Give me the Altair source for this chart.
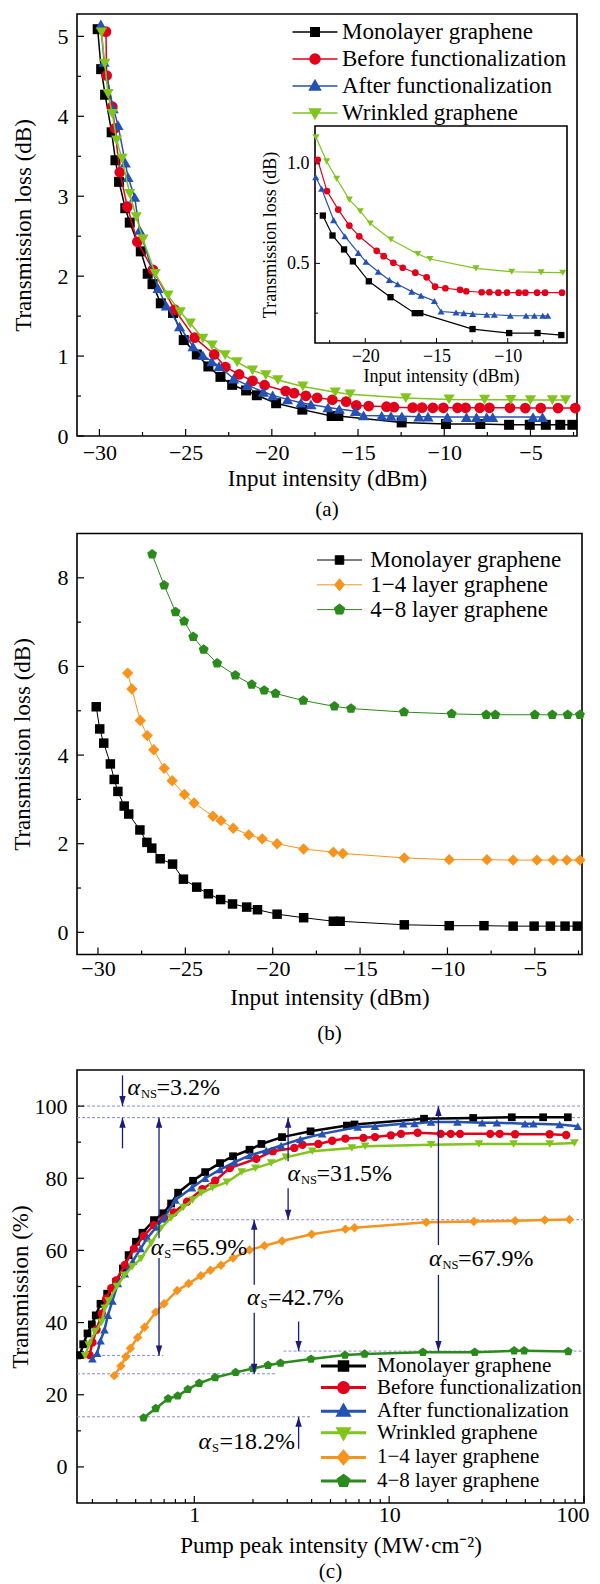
import altair as alt
import pandas as pd

FONT = "Liberation Serif"
BLACK = "#000000"; RED = "#e3001b"; BLUE = "#2451b3"; LGREEN = "#80c41c"
ORANGE = "#f7941d"; DGREEN = "#2b8a1c"; NAVY = "#1b1b7d"; DASH = "#8a8ad8"

PENT = "M0,-1L0.951,-0.309L0.588,0.809L-0.588,0.809L-0.951,-0.309Z"
LN = "M-4.5,0H4.5"
LEG_SQUARE = LN + "M-0.85,-0.85H0.85V0.85H-0.85Z"
LEG_CIRCLE = LN + "M1,0A1,1,0,1,1,-1,0A1,1,0,1,1,1,0Z"
LEG_TUP = LN + "M0,-1.15L1.1,0.8H-1.1Z"
LEG_TDOWN = LN + "M0,1.15L1.1,-0.8H-1.1Z"
LEG_DIAM = LN + "M0,-1.2L1,0L0,1.2L-1,0Z"
LEG_PENT = LN + "M0,-1.1L1.046,-0.34L0.647,0.89L-0.647,0.89L-1.046,-0.34Z"
HEAD_UP = "M0,0L0.32,1L-0.32,1Z"
HEAD_DOWN = "M0,0L0.32,-1L-0.32,-1Z"

# ---------------- panel (a) / (b) data ----------------
mono_x = [-30.1, -29.9, -29.67, -29.29, -29.07, -28.86, -28.5, -28.24, -27.6, -27.2,
          -26.92, -26.44, -25.73, -25.11, -24.35, -23.68, -22.98, -22.3, -21.49, -20.87,
          -19.75, -18.23, -16.53, -16.14, -12.47, -9.9, -7.91, -6.24, -5.04, -4.11, -3.27, -2.57]
mono_y = [5.09, 4.59, 4.27, 3.80, 3.45, 3.18, 2.85, 2.67, 2.31, 2.03,
          1.90, 1.66, 1.54, 1.20, 1.02, 0.87, 0.74, 0.64, 0.57, 0.51,
          0.41, 0.33, 0.25, 0.25, 0.17, 0.15, 0.15, 0.14, 0.14, 0.14, 0.14, 0.14]
before_x = [-29.62, -29.58, -29.25, -29.1, -28.82, -28.38, -27.8, -26.9, -25.64, -24.48,
            -23.34, -22.69, -21.9, -21.12, -20.42, -19.2, -18.71, -18.03, -17.37, -16.49,
            -15.69, -15.1, -14.38, -13.35, -12.91, -11.83, -11.29, -10.66, -10.05, -9.23,
            -8.76, -7.94, -7.38, -6.19, -5.3, -4.4, -3.4, -2.4]
before_y = [5.06, 4.51, 4.12, 3.85, 3.30, 2.87, 2.43, 2.08, 1.58, 1.23,
            1.02, 0.863, 0.77, 0.69, 0.636, 0.563, 0.536, 0.503, 0.478, 0.453,
            0.43, 0.383, 0.375, 0.367, 0.36, 0.355, 0.355, 0.353, 0.353, 0.353,
            0.353, 0.353, 0.353, 0.353, 0.35, 0.35, 0.35, 0.35]
after_x = [-29.92, -29.73, -29.2, -28.92, -28.5, -28.34, -27.96, -27.67, -26.6, -26.12,
           -25.35, -24.57, -24.0, -23.48, -23.06, -22.22, -21.43, -20.49, -19.95, -19.09,
           -18.31, -17.73, -16.74, -16.09, -15.15, -14.68, -13.63, -13.09, -12.46, -11.47,
           -10.94, -9.82, -8.71, -8.13, -7.54, -7.19, -4.85, -4.3]
after_y = [5.15, 4.68, 4.10, 3.89, 3.42, 3.24, 2.99, 2.58, 1.85, 1.63,
           1.37, 1.12, 1.01, 0.933, 0.875, 0.717, 0.636, 0.553, 0.508, 0.458,
           0.417, 0.395, 0.358, 0.338, 0.311, 0.258, 0.253, 0.25, 0.246, 0.242,
           0.242, 0.237, 0.237, 0.237, 0.237, 0.237, 0.237, 0.237]
wr_x = [-29.88, -29.69, -29.5, -29.25, -29.0, -28.69, -28.24, -27.86, -27.47, -26.76,
        -26.02, -25.31, -24.73, -24.0, -23.46, -22.71, -22.01, -21.12, -20.35, -19.65,
        -18.2, -16.32, -15.46, -12.23, -9.72, -7.66, -6.14, -5.0, -3.73, -2.96]
wr_y = [5.05, 4.66, 4.28, 4.03, 3.70, 3.47, 3.03, 2.74, 2.46, 2.03,
        1.76, 1.55, 1.41, 1.22, 1.133, 1.012, 0.925, 0.82, 0.762, 0.70,
        0.62, 0.547, 0.522, 0.475, 0.458, 0.455, 0.453, 0.45, 0.45, 0.45]
l14_x = [-28.3, -28.06, -27.58, -27.18, -26.81, -26.21, -25.75, -25.05, -24.5, -23.42,
         -22.96, -22.26, -21.37, -20.6, -19.75, -18.23, -16.53, -15.99, -12.47, -9.9,
         -7.74, -6.24, -4.88, -3.94, -3.17, -2.42]
l14_y = [5.85, 5.49, 4.78, 4.44, 4.12, 3.70, 3.42, 3.11, 2.92, 2.62,
         2.52, 2.35, 2.20, 2.11, 2.00, 1.88, 1.81, 1.78, 1.68, 1.64,
         1.64, 1.63, 1.63, 1.63, 1.63, 1.63]
l48_x = [-26.9, -26.21, -25.56, -25.07, -24.55, -23.95, -23.18, -22.14, -21.2, -20.49,
         -19.84, -18.25, -16.47, -15.52, -12.49, -9.76, -7.78, -7.26, -5.0, -4.0, -3.12, -2.42]
l48_y = [8.53, 7.83, 7.23, 7.02, 6.67, 6.38, 6.07, 5.80, 5.59, 5.46,
         5.39, 5.23, 5.10, 5.05, 4.97, 4.93, 4.91, 4.91, 4.91, 4.91, 4.91, 4.91]

# ---------------- panel (c) data ----------------
c_mono_x = [0.259, 0.269, 0.283, 0.298, 0.312, 0.330, 0.357, 0.397, 0.43, 0.46,
            0.502, 0.542, 0.621, 0.693, 0.76, 0.826, 0.985, 1.137, 1.355, 1.58,
            1.92, 2.21, 2.82, 3.95, 6.07, 6.64, 15.1, 27.0, 42.6, 61.7, 82.6]
c_mono_y = [31.0, 34.0, 37.0, 39.5, 42.0, 45.2, 48.0, 51.3, 55.0, 58.7,
            62.4, 64.9, 68.4, 70.3, 73.0, 76.0, 79.3, 81.7, 84.2, 86.1,
            87.9, 89.5, 91.4, 93.0, 94.6, 94.9, 96.5, 96.7, 96.9, 96.9, 96.9]
c_before_x = [0.29, 0.30, 0.315, 0.335, 0.353, 0.375, 0.397, 0.44, 0.49, 0.55,
              0.62, 0.70, 0.785, 0.918, 1.1, 1.28, 1.52, 2.08, 2.53, 3.26,
              3.59, 4.33, 5.1, 5.96, 7.38, 8.46, 10.2, 11.5, 14.0, 18.4,
              20.7, 23.1, 33.0, 36.9, 44.3, 66.6, 81.0]
c_before_y = [31.0, 34.5, 38.0, 42.5, 46.6, 49.5, 51.7, 56.0, 60.5, 64.0,
              67.0, 68.8, 70.5, 73.5, 77.0, 79.3, 82.8, 85.4, 87.5, 88.4,
              89.3, 89.5, 90.4, 91.0, 91.2, 91.4, 91.9, 92.3, 92.6, 92.3,
              92.3, 92.3, 92.3, 92.3, 92.2, 92.2, 92.0]
c_after_x = [0.30, 0.317, 0.33, 0.346, 0.36, 0.38, 0.405, 0.44, 0.483, 0.53,
             0.575, 0.64, 0.699, 0.80, 0.973, 1.137, 1.355, 1.61, 1.92, 2.34,
             2.79, 3.5, 4.53, 6.9, 8.46, 11.8, 13.5, 16.4, 22.4, 30.0,
             35.7, 49.8, 55.0, 75.0, 92.9]
c_after_y = [30.0, 31.5, 35.0, 38.0, 42.0, 46.0, 50.8, 53.5, 57.0, 60.5,
             63.5, 66.5, 68.9, 74.0, 77.4, 80.0, 82.4, 84.5, 86.3, 87.7,
             89.1, 90.8, 92.3, 94.2, 94.4, 95.1, 95.2, 95.6, 95.6, 95.4,
             95.4, 95.1, 95.1, 94.9, 94.4]
c_wr_x = [0.275, 0.287, 0.31, 0.334, 0.347, 0.363, 0.40, 0.438, 0.48, 0.532,
          0.60, 0.672, 0.76, 0.877, 0.98, 1.086, 1.24, 1.47, 1.75, 2.06,
          2.48, 2.95, 4.03, 6.44, 7.53, 16.4, 28.9, 43.5, 66.7, 89.3]
c_wr_y = [30.8, 33.8, 37.5, 40.1, 44.0, 46.0, 50.0, 53.1, 55.5, 57.7,
          62.0, 66.1, 69.0, 71.9, 74.0, 75.9, 77.4, 78.9, 81.7, 82.8,
          84.2, 85.8, 87.5, 88.4, 88.9, 89.3, 89.5, 89.5, 89.5, 89.8]
c_l14_x = [0.388, 0.42, 0.445, 0.47, 0.512, 0.555, 0.634, 0.699, 0.817, 0.935,
           1.08, 1.21, 1.37, 1.58, 1.92, 2.29, 2.82, 4.0, 5.96, 6.64,
           15.5, 27.2, 44.3, 62.9, 84.2]
c_l14_y = [25.3, 28.0, 30.5, 32.9, 35.9, 38.7, 42.9, 45.2, 48.9, 50.8,
           53.0, 54.5, 55.9, 57.9, 60.1, 61.3, 62.6, 64.5, 65.9, 66.3,
           67.8, 68.0, 68.2, 68.4, 68.6]
c_l48_x = [0.549, 0.634, 0.734, 0.822, 0.927, 1.06, 1.28, 1.63, 2.0, 2.39,
           2.77, 3.97, 5.93, 7.48, 14.9, 27.5, 43.8, 49.3, 83.0]
c_l48_y = [13.6, 16.2, 18.9, 19.7, 21.5, 23.2, 24.8, 26.2, 27.3, 28.2,
           28.8, 29.9, 31.0, 31.3, 31.8, 31.8, 32.2, 32.2, 32.0]

# annotations (c)
dash_y = [100, 96.8, 68.5, 30.9, 25.8, 32.1, 13.9]
dash_x1 = [0.25, 0.25, 0.964, 0.25, 0.25, 2.87, 0.25]
dash_x2 = [100, 100, 100, 0.693, 2.62, 100, 3.96]
arr_x = [0.428, 0.428, 0.659, 0.659, 3.03, 3.03, 2.03, 2.03, 17.9, 17.9, 3.43, 3.43]
arr_y1 = [108.5, 88.3, 96.8, 57.9, 96.8, 77.2, 68.5, 42.7, 100, 53.2, 40.3, 5.0]
arr_y2 = [100, 96.8, 63.4, 30.9, 84.7, 68.5, 50.5, 25.8, 61.5, 32.1, 32.1, 13.9]
up_x = [0.428, 0.659, 3.03, 2.03, 17.9, 3.43]
up_y = [96.8, 96.8, 96.8, 68.5, 100, 13.9]
down_x = [0.428, 0.659, 3.03, 2.03, 17.9, 3.43]
down_y = [100, 30.9, 68.5, 25.8, 32.1, 32.1]
ns_x = [0.454, 3.01, 16.0]
ns_y = [105.0, 81.3, 57.7]
ns_txt = ["=3.2%", "=31.5%", "=67.9%"]
s_x = [0.597, 1.866, 1.05]
s_y = [60.7, 46.9, 6.9]
s_txt = ["=65.9%", "=42.7%", "=18.2%"]

names_a = ["Monolayer graphene", "Before functionalization", "After functionalization", "Wrinkled graphene"]
names_b = ["Monolayer graphene", "1\u22124 layer graphene", "4\u22128 layer graphene"]
names_c = names_a + names_b[1:]

# inset domains
IX = [-23.53, -5.84]
IY = [0.1, 1.19]


def ax(**kw):
    base = dict(ticks=False, domain=False, grid=False, labelFlush=False, labelOverlap=False)
    base.update(kw)
    return alt.Axis(**base)


def series(xs, ys, X, Y, color, shape, size, lw, xr=None):
    df = pd.DataFrame({"x": xs, "y": ys})
    if xr is not None:
        df = df[(df["x"] >= xr[0]) & (df["x"] <= xr[1])]
    base = alt.Chart(df)
    return [base.mark_line(color=color, strokeWidth=lw).encode(x=X, y=Y),
            base.mark_point(shape=shape, filled=True, size=size, color=color, opacity=1).encode(x=X, y=Y)]


def ticks(X, Y, ybot, x0, xmaj, xmin, ymaj, ymin, lmaj=7, lmin=4, sw=1.2):
    out = []
    for vals, ln in ((xmaj, lmaj), (xmin, lmin)):
        out.append(alt.Chart(pd.DataFrame({"x": vals})).mark_rule(color="black", strokeWidth=sw)
                   .encode(x=X, y=alt.value(ybot), y2=alt.value(ybot - ln)))
    for vals, ln in ((ymaj, lmaj), (ymin, lmin)):
        out.append(alt.Chart(pd.DataFrame({"y": vals})).mark_rule(color="black", strokeWidth=sw)
                   .encode(y=Y, x=alt.value(x0), x2=alt.value(x0 + ln)))
    return out


def legend_layer(names, colors, paths, lx, ly, fs, offs, rowpad, sw):
    leg = alt.Legend(title=None, orient="none", legendX=lx, legendY=ly, labelFont=FONT,
                     labelFontSize=fs, labelColor="black", symbolSize=100, symbolStrokeWidth=sw,
                     labelOffset=offs, rowPadding=rowpad, padding=0, labelLimit=500, symbolOpacity=1)
    return (alt.Chart(pd.DataFrame({"series": names}))
            .transform_filter("datum.series == '__none__'")
            .mark_point(filled=True, opacity=1)
            .encode(fill=alt.Fill("series:N", scale=alt.Scale(domain=names, range=colors), legend=leg),
                    stroke=alt.Stroke("series:N", scale=alt.Scale(domain=names, range=colors), legend=leg),
                    shape=alt.Shape("series:N", scale=alt.Scale(domain=names, range=paths), legend=leg)))


# ================= panel (a) =================
WA, HA = 500, 422
XA = alt.X("x:Q", scale=alt.Scale(domain=[-31.3, -2.3], nice=False, zero=False),
           axis=ax(values=[-30, -25, -20, -15, -10, -5], title="Input intensity (dBm)",
                   labelPadding=6, titlePadding=4.5))
YA = alt.Y("y:Q", scale=alt.Scale(domain=[0, 5.28], nice=False, zero=False),
           axis=ax(values=[0, 1, 2, 3, 4, 5], title="Transmission loss (dB)",
                   labelPadding=9, titlePadding=21.5))
main_a = []
main_a += series(mono_x, mono_y, XA, YA, BLACK, "square", 100, 1.5)
main_a += series(before_x, before_y, XA, YA, RED, "circle", 115, 1.5)
main_a += series(after_x, after_y, XA, YA, BLUE, "triangle-up", 125, 1.5)
main_a += series(wr_x, wr_y, XA, YA, LGREEN, "triangle-down", 125, 1.5)
main_a += ticks(XA, YA, HA, 0, [-30, -25, -20, -15, -10, -5], [-27.5, -22.5, -17.5, -12.5, -7.5, -2.5],
                [0, 1, 2, 3, 4, 5], [0.5, 1.5, 2.5, 3.5, 4.5])
main_a.append(legend_layer(names_a, [BLACK, RED, BLUE, LGREEN],
                           [LEG_SQUARE, LEG_CIRCLE, LEG_TUP, LEG_TDOWN],
                           226.5, 6.5, 23, 15.5, 3.0, 1.5))

XI = alt.X("x:Q", scale=alt.Scale(domain=IX, range=[238, 490], nice=False, zero=False),
           axis=ax(values=[-20, -15, -10], orient="bottom", offset=-93, title="Input intensity (dBm)",
                   labelFontSize=18, titleFontSize=18, labelPadding=4, titlePadding=2))
YI = alt.Y("y:Q", scale=alt.Scale(domain=IY, range=[329, 112], nice=False, zero=False),
           axis=ax(values=[0.5, 1.0], format=".1f", orient="left", offset=-238,
                   title="Transmission loss (dB)", labelFontSize=18, titleFontSize=18,
                   labelPadding=6, titlePadding=7))
inset = [alt.Chart(pd.DataFrame({"x": [IX[0]], "x2": [IX[1]], "y": [IY[0]], "y2": [IY[1]]}))
         .mark_rect(fill="white", stroke="black", strokeWidth=1.6)
         .encode(x=XI, x2="x2:Q", y=YI, y2="y2:Q")]
inset += series(mono_x, mono_y, XI, YI, BLACK, "square", 40, 1.2, IX)
inset += series(before_x, before_y, XI, YI, RED, "circle", 45, 1.2, IX)
inset += series(after_x, after_y, XI, YI, BLUE, "triangle-up", 50, 1.2, IX)
inset += series(wr_x, wr_y, XI, YI, LGREEN, "triangle-down", 50, 1.2, IX)
inset += ticks(XI, YI, 329, 238, [-20, -15, -10], [-22.5, -17.5, -12.5, -7.5],
               [0.5, 1.0], [0.25, 0.75], lmaj=5, lmin=3, sw=1)

pa = (alt.layer(alt.layer(*main_a), alt.layer(*inset))
      .resolve_scale(x="independent", y="independent")
      .resolve_axis(x="independent", y="independent")
      .properties(width=WA, height=HA,
                  title=alt.TitleParams("(a)", orient="bottom", offset=8, anchor="middle", frame="group")))

# ================= panel (b) =================
WB, HB = 505, 421
XB = alt.X("x:Q", scale=alt.Scale(domain=[-31.2, -2.3], nice=False, zero=False),
           axis=ax(values=[-30, -25, -20, -15, -10, -5], title="Input intensity (dBm)",
                   labelPadding=3.7, titlePadding=7))
YB = alt.Y("y:Q", scale=alt.Scale(domain=[-0.5, 9.0], nice=False, zero=False),
           axis=ax(values=[0, 2, 4, 6, 8], title="Transmission loss (dB)",
                   labelPadding=9, titlePadding=22.5))
lb = []
lb += series(mono_x, mono_y, XB, YB, BLACK, "square", 90, 1)
lb += series(l14_x, l14_y, XB, YB, ORANGE, "diamond", 130, 1)
lb += series(l48_x, l48_y, XB, YB, DGREEN, PENT, 110, 1)
lb += ticks(XB, YB, HB, 0, [-30, -25, -20, -15, -10, -5], [-27.5, -22.5, -17.5, -12.5, -7.5, -2.5],
            [0, 2, 4, 6, 8], [1, 3, 5, 7])
lb.append(legend_layer(names_b, [BLACK, ORANGE, DGREEN], [LEG_SQUARE, LEG_DIAM, LEG_PENT],
                       251, 15, 23, 19.3, 0.8, 1))
pb = alt.layer(*lb).properties(
    width=WB, height=HB,
    title=alt.TitleParams("(b)", orient="bottom", offset=14, anchor="middle", frame="group",
                          subtitle=" ", subtitleFontSize=10, subtitlePadding=2))

# ================= panel (c) =================
WC, HC = 507, 433
XC = alt.X("x:Q", scale=alt.Scale(type="log", domain=[0.25, 100], nice=False),
           axis=ax(values=[1, 10, 100], format=".0f", labelFlush=2, labelFlushOffset=5,
                   title="Pump peak intensity (MW\u00b7cm\u207b\u00b2)", labelPadding=1.5, titlePadding=9))
YC = alt.Y("y:Q", scale=alt.Scale(domain=[-10, 110], nice=False, zero=False),
           axis=ax(values=[0, 20, 40, 60, 80, 100], title="Transmission (%)",
                   labelPadding=10, titlePadding=2))
lc = []
lc.append(alt.Chart(pd.DataFrame({"x": dash_x1, "x2": dash_x2, "y": dash_y}))
          .mark_rule(color=DASH, strokeWidth=1, strokeDash=[3, 2]).encode(x=XC, x2="x2:Q", y=YC))
lc += series(c_mono_x, c_mono_y, XC, YC, BLACK, "square", 60, 2.5)
lc += series(c_before_x, c_before_y, XC, YC, RED, "circle", 70, 2.5)
lc += series(c_after_x, c_after_y, XC, YC, BLUE, "triangle-up", 75, 2.5)
lc += series(c_wr_x, c_wr_y, XC, YC, LGREEN, "triangle-down", 75, 2.5)
lc += series(c_l14_x, c_l14_y, XC, YC, ORANGE, "diamond", 90, 2.5)
lc += series(c_l48_x, c_l48_y, XC, YC, DGREEN, PENT, 85, 2.5)
lc += ticks(XC, YC, HC, 0, [1, 10, 100],
            [0.3, 0.4, 0.5, 0.6, 0.7, 0.8, 0.9, 2, 3, 4, 5, 6, 7, 8, 9, 20, 30, 40, 50, 60, 70, 80, 90],
            [0, 20, 40, 60, 80, 100], [10, 30, 50, 70, 90])
lc.append(alt.Chart(pd.DataFrame({"x": arr_x, "y": arr_y1, "y2": arr_y2}))
          .mark_rule(color=NAVY, strokeWidth=1.3).encode(x=XC, y=YC, y2="y2:Q"))
lc.append(alt.Chart(pd.DataFrame({"x": up_x, "y": up_y}))
          .mark_point(shape=HEAD_UP, filled=True, size=400, color=NAVY, opacity=1).encode(x=XC, y=YC))
lc.append(alt.Chart(pd.DataFrame({"x": down_x, "y": down_y}))
          .mark_point(shape=HEAD_DOWN, filled=True, size=400, color=NAVY, opacity=1).encode(x=XC, y=YC))
for xs, ys, txt, sub, dxr in ((ns_x, ns_y, ns_txt, "NS", 29), (s_x, s_y, s_txt, "S", 21)):
    d = pd.DataFrame({"x": xs, "y": ys, "t": txt})
    b = alt.Chart(d)
    lc.append(b.mark_text(text="\u03b1", font=FONT, fontStyle="italic", fontSize=24, align="left",
                          baseline="middle", color="black").encode(x=XC, y=YC))
    lc.append(b.mark_text(text=sub, font=FONT, fontSize=12.5, align="left", baseline="middle",
                          dx=13.5, dy=6, color="black").encode(x=XC, y=YC))
    lc.append(b.mark_text(font=FONT, fontSize=24, align="left", baseline="middle", dx=dxr,
                          color="black").encode(x=XC, y=YC, text="t:N"))
lc.append(legend_layer(names_c, [BLACK, RED, BLUE, LGREEN, ORANGE, DGREEN],
                       [LEG_SQUARE, LEG_CIRCLE, LEG_TUP, LEG_TDOWN, LEG_DIAM, LEG_PENT],
                       256, 285.5, 21, 23, -0.4, 3))
pc = alt.layer(*lc).properties(
    width=WC, height=HC,
    title=alt.TitleParams("(c)", orient="bottom", offset=3, anchor="middle", frame="group"))

chart = (alt.vconcat(pa, pb, pc, spacing=11.5)
         .resolve_scale(x="independent", y="independent", fill="independent",
                        stroke="independent", shape="independent")
         .properties(padding={"left": 0, "top": 5, "right": 0, "bottom": 0})
         .configure_axis(labelFont=FONT, titleFont=FONT, labelFontSize=22, titleFontSize=23,
                         titleFontWeight="normal", labelColor="black", titleColor="black")
         .configure_view(stroke="black", strokeWidth=1.6)
         .configure_title(font=FONT, fontSize=21, fontWeight="normal", color="black",
                          subtitleFont=FONT))

chart.save("out.html", embed_options={"renderer": "svg", "actions": False})
